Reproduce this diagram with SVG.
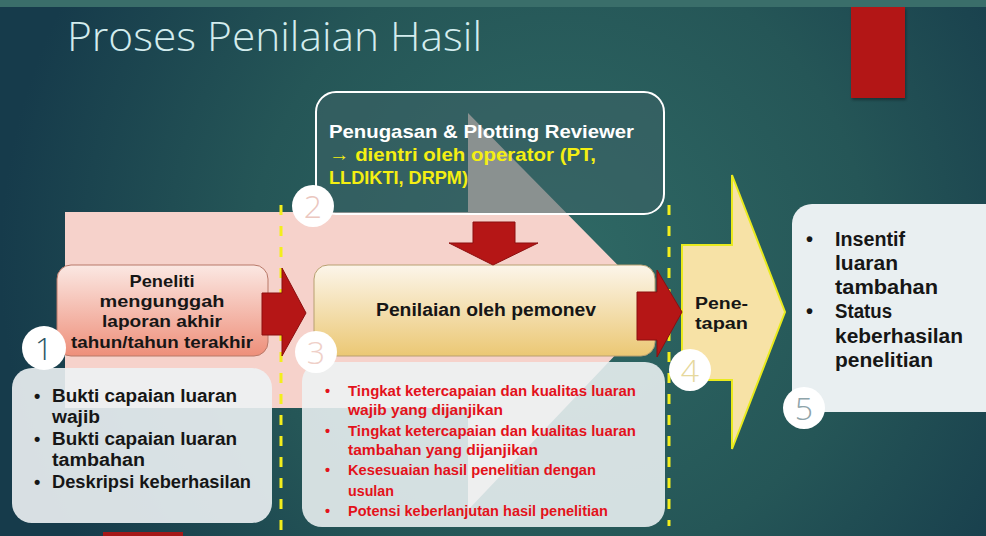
<svg xmlns="http://www.w3.org/2000/svg" width="986" height="536" viewBox="0 0 986 536">
<defs>
<radialGradient id="bg" cx="560" cy="260" r="560" gradientUnits="userSpaceOnUse">
<stop offset="0" stop-color="#2f6965"/>
<stop offset="0.55" stop-color="#255657"/>
<stop offset="1" stop-color="#163b4b"/>
</radialGradient>
<linearGradient id="g1" x1="0" y1="0" x2="0" y2="1">
<stop offset="0" stop-color="#fbe8e3"/>
<stop offset="1" stop-color="#ee8f7a"/>
</linearGradient>
<linearGradient id="g3" x1="0" y1="0" x2="0" y2="1">
<stop offset="0" stop-color="#fcf5ea"/>
<stop offset="1" stop-color="#ebc874"/>
</linearGradient>
<filter id="sh" x="-20%" y="-20%" width="140%" height="140%">
<feDropShadow dx="1" dy="2" stdDeviation="1.5" flood-color="#000" flood-opacity="0.35"/>
</filter>
</defs>
<style>
.t{font-family:"Liberation Sans","Open Sans",sans-serif;font-weight:700;}
.blk{fill:#161616;}
.red{fill:#e3121b;font-size:14.5px;}
.num{font-family:"Open Sans","Liberation Sans",sans-serif;font-weight:300;font-size:32px;text-anchor:middle;}
.circ{fill:#ffffff;}
.arr{fill:#b51616;stroke:#8c0f0f;stroke-width:1;}
.dash{stroke:#f3ee1c;stroke-width:3;stroke-dasharray:10 11;fill:none;}
.light{fill:#edf2f4;}
</style>
<rect x="0" y="0" width="986" height="536" fill="url(#bg)"/>
<rect x="0" y="0" width="986" height="7" fill="#3a6e6a"/>
<rect id="redbar" x="851" y="7" width="54" height="91" fill="#b31818" filter="url(#sh)"/>
<rect x="103" y="532" width="80" height="4" fill="#a51818"/>
<text x="67" y="51" font-family="'Open Sans','Liberation Sans',sans-serif" font-weight="300" font-size="40" fill="#d3ecee" textLength="415" lengthAdjust="spacingAndGlyphs">Proses Penilaian Hasil</text>

<g id="bigarrow">
<polygon points="65,212 468,212 468,113 660,308 468,510 468,408 65,408" fill="#f6d2cb"/>
</g>

<g id="node2">
<rect x="316" y="92" width="348" height="122" rx="20" fill="#3d6265" fill-opacity="0.58" stroke="#ffffff" stroke-width="2"/>
<text class="t" x="329" y="138" font-size="19" fill="#ffffff" textLength="305" lengthAdjust="spacingAndGlyphs">Penugasan &amp; Plotting Reviewer</text>
<text class="t" x="329" y="161" font-size="19" fill="#f4ef12" textLength="267" lengthAdjust="spacingAndGlyphs">→ dientri oleh operator (PT,</text>
<text class="t" x="329" y="184" font-size="19" fill="#f4ef12" textLength="139" lengthAdjust="spacingAndGlyphs">LLDIKTI, DRPM)</text>
</g>

<g id="dividers">
<line class="dash" x1="281" y1="205" x2="281" y2="536"/>
<line class="dash" x1="669" y1="205" x2="669" y2="526"/>
</g>

<g id="node1a">
<rect x="57" y="265" width="211" height="91" rx="14" fill="url(#g1)" stroke="#b87868" stroke-width="1"/>
<text class="t blk" x="162" y="287" font-size="17" text-anchor="middle" textLength="65" lengthAdjust="spacingAndGlyphs">Peneliti</text>
<text class="t blk" x="162" y="307" font-size="17" text-anchor="middle" textLength="125" lengthAdjust="spacingAndGlyphs">mengunggah</text>
<text class="t blk" x="162" y="327" font-size="17" text-anchor="middle" textLength="120" lengthAdjust="spacingAndGlyphs">laporan akhir</text>
<text class="t blk" x="162" y="348" font-size="17" text-anchor="middle" textLength="182" lengthAdjust="spacingAndGlyphs">tahun/tahun terakhir</text>
</g>

<g id="node1b">
<rect x="12" y="368" width="260" height="155" rx="20" class="light" fill-opacity="0.9"/>
<text class="t blk" x="34" y="402" font-size="18">•</text>
<text class="t blk" x="52" y="402" font-size="18" textLength="185" lengthAdjust="spacingAndGlyphs">Bukti capaian luaran</text>
<text class="t blk" x="52" y="423" font-size="18" textLength="48" lengthAdjust="spacingAndGlyphs">wajib</text>
<text class="t blk" x="34" y="445" font-size="18">•</text>
<text class="t blk" x="52" y="445" font-size="18" textLength="185" lengthAdjust="spacingAndGlyphs">Bukti capaian luaran</text>
<text class="t blk" x="52" y="466" font-size="18" textLength="93" lengthAdjust="spacingAndGlyphs">tambahan</text>
<text class="t blk" x="34" y="488" font-size="18">•</text>
<text class="t blk" x="52" y="488" font-size="18" textLength="199" lengthAdjust="spacingAndGlyphs">Deskripsi keberhasilan</text>
</g>

<g id="node3a">
<rect x="314" y="265" width="341" height="91" rx="14" fill="url(#g3)" stroke="#b8a070" stroke-width="1"/>
<text class="t blk" x="486" y="316" font-size="18" text-anchor="middle" textLength="220" lengthAdjust="spacingAndGlyphs">Penilaian oleh pemonev</text>
</g>

<g id="node3b">
<rect x="302" y="362" width="363" height="165" rx="20" class="light" fill-opacity="0.88"/>
<text class="t red" x="325" y="396">•</text>
<text class="t red" x="348" y="396" textLength="288" lengthAdjust="spacingAndGlyphs">Tingkat ketercapaian dan kualitas luaran</text>
<text class="t red" x="348" y="415" textLength="155" lengthAdjust="spacingAndGlyphs">wajib  yang dijanjikan</text>
<text class="t red" x="325" y="436">•</text>
<text class="t red" x="348" y="436" textLength="288" lengthAdjust="spacingAndGlyphs">Tingkat ketercapaian dan kualitas luaran</text>
<text class="t red" x="348" y="455" textLength="190" lengthAdjust="spacingAndGlyphs">tambahan  yang dijanjikan</text>
<text class="t red" x="325" y="475">•</text>
<text class="t red" x="348" y="475" textLength="248" lengthAdjust="spacingAndGlyphs">Kesesuaian hasil penelitian dengan</text>
<text class="t red" x="348" y="496" textLength="46" lengthAdjust="spacingAndGlyphs">usulan</text>
<text class="t red" x="325" y="516">•</text>
<text class="t red" x="348" y="516" textLength="260" lengthAdjust="spacingAndGlyphs">Potensi keberlanjutan hasil penelitian</text>
</g>

<g id="node4">
<polygon points="682,245 732,245 732,175 785,312 732,449 732,380 682,380" fill="#f7e2a6" stroke="#e9ea1e" stroke-width="2"/>
<text class="t blk" x="695" y="309" font-size="16" textLength="53" lengthAdjust="spacingAndGlyphs">Pene-</text>
<text class="t blk" x="695" y="329" font-size="16" textLength="53" lengthAdjust="spacingAndGlyphs">tapan</text>
</g>

<g id="node5">
<rect x="792" y="204" width="220" height="208" rx="20" fill="#e9eff1"/>
<text class="t blk" x="806" y="246" font-size="20">•</text>
<text class="t blk" x="835" y="246" font-size="20" textLength="70" lengthAdjust="spacingAndGlyphs">Insentif</text>
<text class="t blk" x="835" y="270" font-size="20" textLength="63" lengthAdjust="spacingAndGlyphs">luaran</text>
<text class="t blk" x="835" y="294" font-size="20" textLength="103" lengthAdjust="spacingAndGlyphs">tambahan</text>
<text class="t blk" x="806" y="318" font-size="20">•</text>
<text class="t blk" x="835" y="318" font-size="20" textLength="57" lengthAdjust="spacingAndGlyphs">Status</text>
<text class="t blk" x="835" y="343" font-size="20" textLength="128" lengthAdjust="spacingAndGlyphs">keberhasilan</text>
<text class="t blk" x="835" y="367" font-size="20" textLength="98" lengthAdjust="spacingAndGlyphs">penelitian</text>
</g>

<g id="connectors">
<polygon class="arr" points="262,293 282,293 282,268 306,313 282,356 282,335 262,335"/>
<polygon class="arr" points="473,222 515,222 515,243 538,243 493,265 449,243 473,243"/>
<polygon class="arr" points="637,292 657,292 657,270 682,312 657,357 657,340 637,340"/>
</g>

<g id="badges">
<circle class="circ" cx="44" cy="348" r="22"/>
<text class="num" x="44" y="360" fill="#2c5564">1</text>
<circle class="circ" cx="313" cy="206" r="21"/>
<text class="num" x="313" y="218" fill="#ebc7bf">2</text>
<circle class="circ" cx="316" cy="352" r="21"/>
<text class="num" x="316" y="364" fill="#efd0c8">3</text>
<circle class="circ" cx="690" cy="370" r="21"/>
<text class="num" x="690" y="382" fill="#e6d89c">4</text>
<circle class="circ" cx="804" cy="408" r="21"/>
<text class="num" x="804" y="420" fill="#8ea4aa">5</text>
</g>
</svg>
